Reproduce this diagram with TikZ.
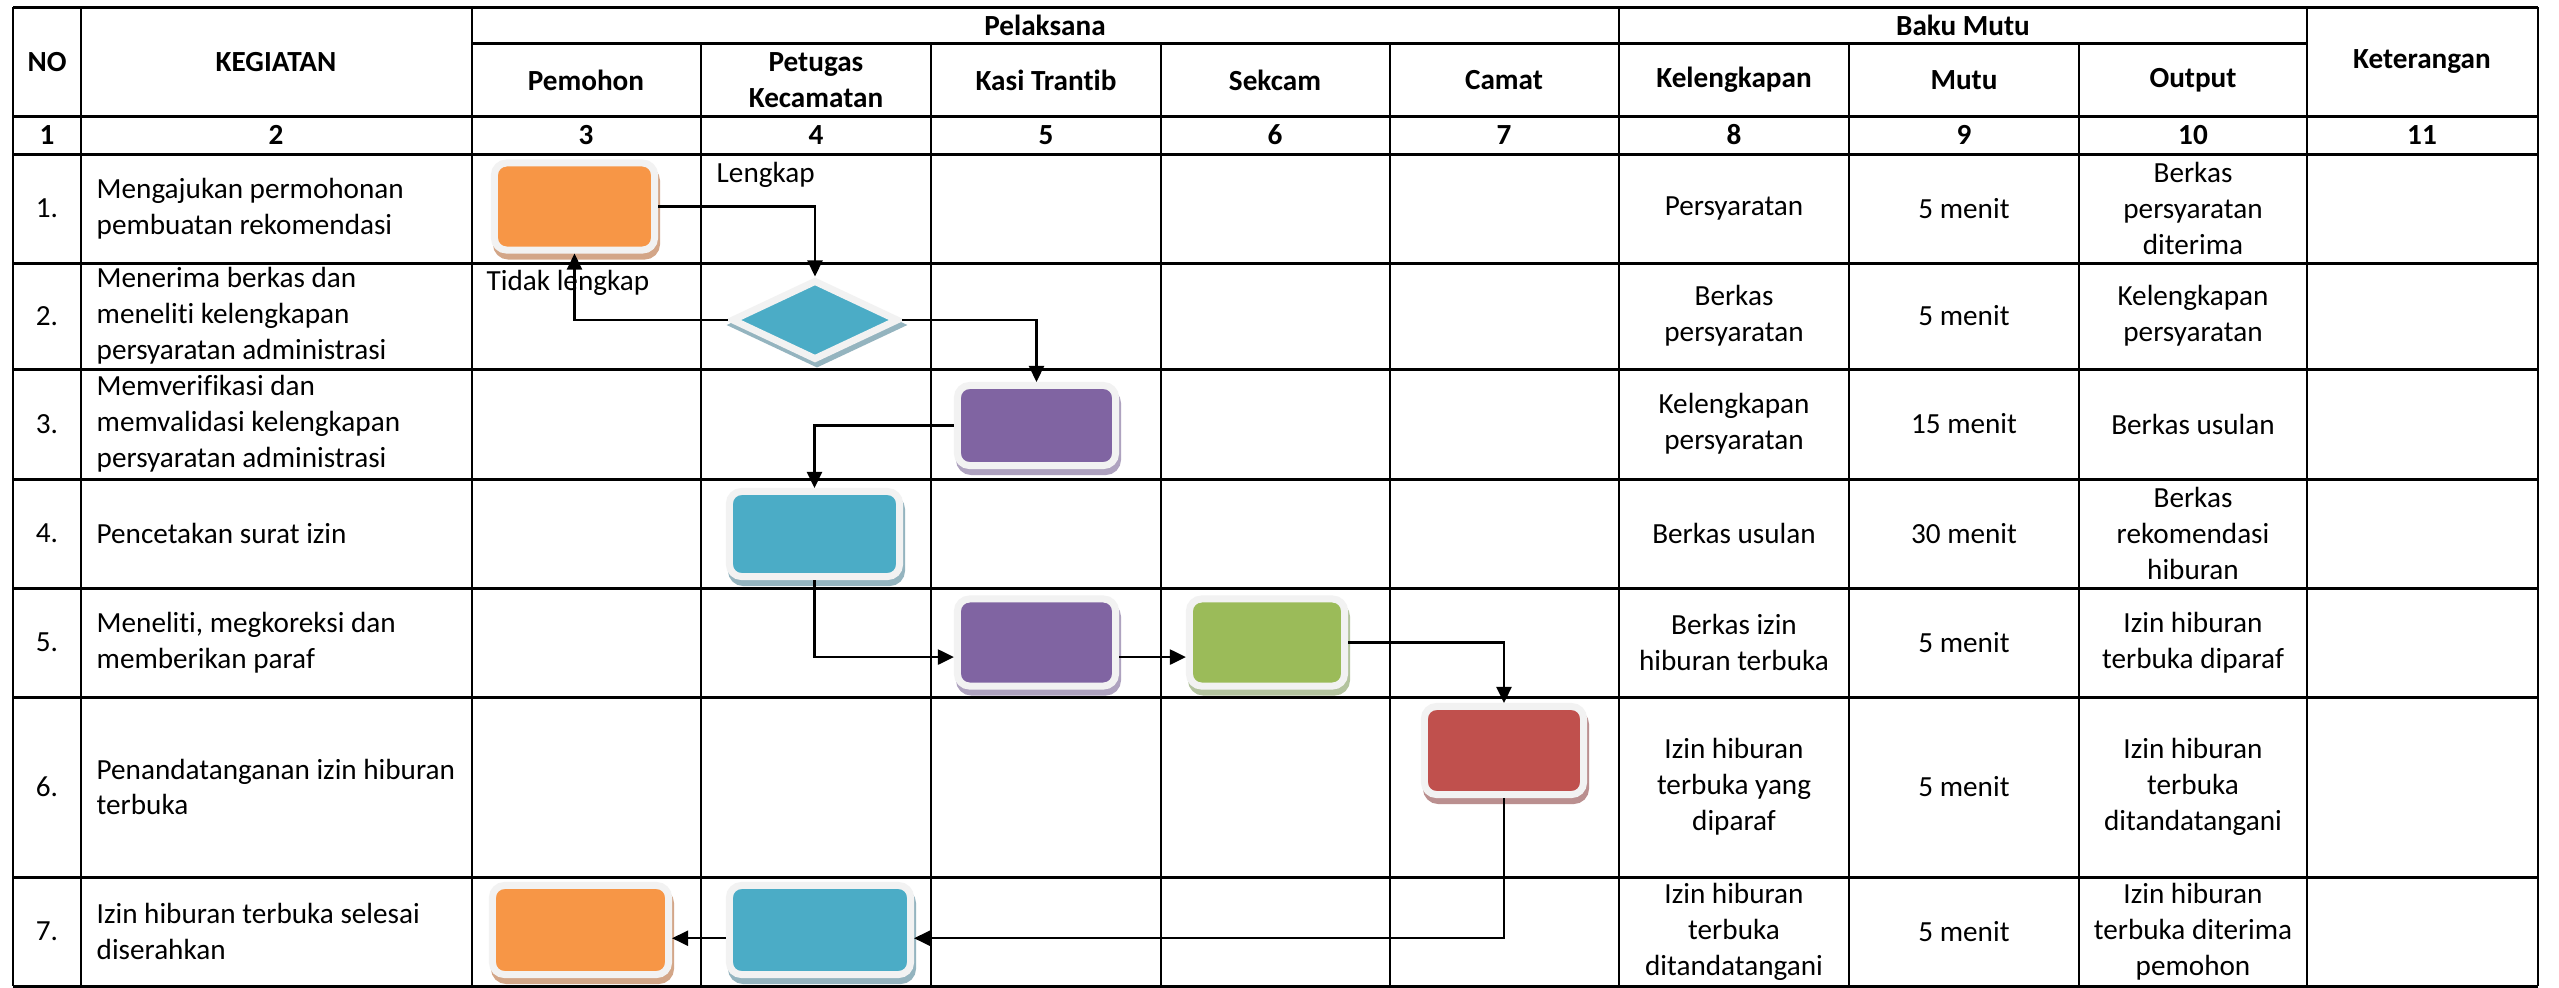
\documentclass[tikz,border=0pt]{standalone}
\usepackage{fontspec}
\setmainfont{Carlito}[Ligatures=NoCommon]
\usetikzlibrary{positioning,arrows.meta,shapes.geometric}

\definecolor{framegray}{HTML}{F2F2F2}
\definecolor{fillorange}{HTML}{F79646}
\definecolor{shadeorange}{HTML}{D3A688}
\definecolor{fillteal}{HTML}{4BACC6}
\definecolor{shadeteal}{HTML}{94B4BF}
\definecolor{fillpurple}{HTML}{8064A2}
\definecolor{shadepurple}{HTML}{AEA2BF}
\definecolor{fillgreen}{HTML}{9BBB59}
\definecolor{shadegreen}{HTML}{B3C39E}
\definecolor{fillred}{HTML}{C0504D}
\definecolor{shadered}{HTML}{BA8F8F}

\begin{document}
\begin{tikzpicture}[
  x=0.01cm, y=-0.01cm,
  txt/.style={font=\fontsize{8.3}{10.2}\selectfont, inner sep=0pt, align=center},
  hdr/.style={txt, font=\fontsize{8.3}{10.2}\selectfont\bfseries},
  hline/.style={line width=0.85pt},
  vline/.style={line width=0.65pt},
  procbox/.style 2 args={rectangle, rounded corners=0.12cm, minimum width=1.6cm,
    minimum height=0.87cm, inner sep=0pt, fill=#1, draw=framegray, line width=0.07cm,
    preaction={fill=#2, draw=#2, transform canvas={xshift=0.02cm, yshift=-0.06cm}}},
  decide/.style 2 args={diamond, minimum width=1.67cm, minimum height=0.8cm,
    inner sep=0pt, fill=#1, draw=framegray, line width=0.07cm,
    preaction={fill=#2, draw=#2, transform canvas={xshift=0.02cm, yshift=-0.05cm}}},
  flow/.style={-{Triangle[length=0.16cm, width=0.15cm]}, line width=0.65pt}
]
  \path[use as bounding box, fill=white] (0,0) rectangle (2559,987);

  % table grid
  \foreach \y in {7,116,154,263,369,479,588,697,877,986}
    \draw[hline] (13,\y) -- (2538,\y);
  \draw[hline] (472,43) -- (2307,43);
  \foreach \x in {13,81,472,1619,2307,2538}
    \draw[vline] (\x,7) -- (\x,986);
  \foreach \x in {701,931,1161,1390,1849,2079}
    \draw[vline] (\x,43) -- (\x,986);

  % header
  \node[hdr] (hno) at (47,62) {NO};
  \node[hdr] (hkeg) at (276,62) {KEGIATAN};
  \node[hdr] (hpel) at (1045,25) {Pelaksana};
  \node[hdr] (hbaku) at (1963,25) {Baku Mutu};
  \node[hdr] (hket) at (2422,62) {Keterangan};
  \foreach \x/\t [count=\i] in {586/Pemohon, 816/{Petugas\\Kecamatan}, 1046/Kasi Trantib,
      1275/Sekcam, 1504/Camat, 1734/Kelengkapan, 1964/Mutu, 2193/Output}
    \node[hdr] (sub\i) at (\x,80) {\t};
  \foreach \x [count=\i] in {47,276,586,816,1046,1275,1504,1734,1964,2193,2422}
    \node[hdr] (num\i) at (\x,135) {\i};

  % rows
  \foreach \y/\t [count=\i] in {
      208.5/{Mengajukan permohonan\\pembuatan rekomendasi},
      316/{Menerima berkas dan\\meneliti kelengkapan\\persyaratan administrasi},
      424/{Memverifikasi dan\\memvalidasi kelengkapan\\persyaratan administrasi},
      533.5/{Pencetakan surat izin},
      642.5/{Meneliti, megkoreksi dan\\memberikan paraf},
      787/{Penandatanganan izin hiburan\\terbuka},
      931.5/{Izin hiburan terbuka selesai\\diserahkan}} {
    \node[txt] (no\i) at (47,\y) {\i.};
    \node[txt, anchor=west, align=left] (keg\i) at (96,\y) {\t};
  }
  \foreach \y/\t [count=\i] in {
      208.5/{Persyaratan}, 316/{Berkas\\persyaratan}, 424/{Kelengkapan\\persyaratan},
      533.5/{Berkas usulan}, 642.5/{Berkas izin\\hiburan terbuka},
      787/{Izin hiburan\\terbuka yang\\diparaf}, 931.5/{Izin hiburan\\terbuka\\ditandatangani}}
    \node[txt] (kel\i) at (1734,\y) {\t};
  \foreach \y/\t [count=\i] in {208.5/5 menit, 316/5 menit, 424/15 menit, 533.5/30 menit,
      642.5/5 menit, 787/5 menit, 931.5/5 menit}
    \node[txt] (mutu\i) at (1964,\y) {\t};
  \foreach \y/\t [count=\i] in {
      208.5/{Berkas\\persyaratan\\diterima}, 316/{Kelengkapan\\persyaratan},
      424/{Berkas usulan}, 533.5/{Berkas\\rekomendasi\\hiburan},
      642.5/{Izin hiburan\\terbuka diparaf}, 787/{Izin hiburan\\terbuka\\ditandatangani},
      931.5/{Izin hiburan\\terbuka diterima\\pemohon}}
    \node[txt] (out\i) at (2193,\y) {\t};

  % flow shapes
  \node[procbox={fillorange}{shadeorange}] (o1) at (574.5,206.5) {};
  \node[decide={fillteal}{shadeteal}] (dia) at (815,320) {};
  \node[procbox={fillpurple}{shadepurple}, minimum width=1.58cm, minimum height=0.8cm] (p3) at (1036.5,425.5) {};
  \node[procbox={fillteal}{shadeteal}, minimum width=1.7cm, minimum height=0.85cm] (b4) at (814.5,534) {};
  \node[procbox={fillpurple}{shadepurple}, minimum width=1.58cm] (p5) at (1036.5,642.5) {};
  \node[procbox={fillgreen}{shadegreen}, minimum width=1.55cm] (g5) at (1267,642.5) {};
  \node[procbox={fillred}{shadered}, minimum width=1.59cm, minimum height=0.88cm] (r6) at (1504,750.5) {};
  \node[procbox={fillorange}{shadeorange}, minimum width=1.76cm, minimum height=0.89cm] (o7) at (580.5,930) {};
  \node[procbox={fillteal}{shadeteal}, minimum width=1.81cm, minimum height=0.89cm] (b7) at (820,930) {};

  \node[txt, anchor=west] (lengkap) at (716,175) {Lengkap};
  \node[txt, anchor=west] (tidak) at (486,283) {Tidak lengkap};

  % connectors
  \draw[flow] (o1.east) -| (dia.north);
  \draw[flow] (dia.west) -| (o1.south);
  \draw[flow] (dia.east) -| (p3.north);
  \draw[flow] (p3.west) -| (b4.north);
  \draw[flow] (b4.south) |- (p5.190);
  \draw[flow] (p5.350) -- (p5.350 -| g5.west);
  \draw[flow] (g5.east) -| (r6.north);
  \draw[flow] (r6.south) |- (b7.355);
  \draw[flow] (b7.185) -- (b7.185 -| o7.east);
\end{tikzpicture}
\end{document}
